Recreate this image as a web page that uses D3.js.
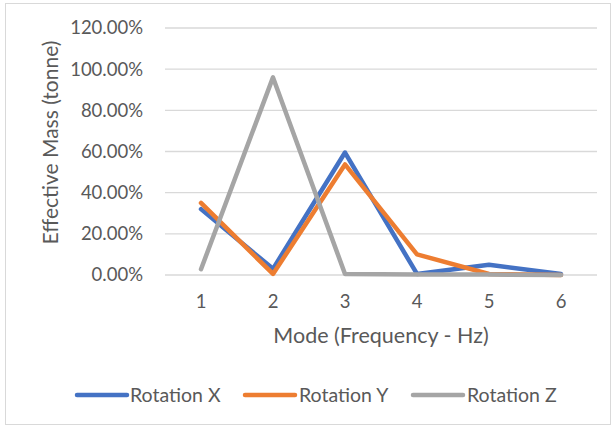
<!DOCTYPE html>
<html><head><meta charset="utf-8">
<script src="https://cdn.jsdelivr.net/npm/d3@7"></script>
<style>body{margin:0;background:#fff;} text{font-family:Lato, "Open Sans", sans-serif;fill:#595959;}</style>
</head><body><svg id="c" width="616" height="427"></svg>
<script>
const modes = ["1","2","3","4","5","6"];
const rotationX = [0.32, 0.03, 0.595, 0.005, 0.05, 0.005];
const rotationY = [0.35, 0.005, 0.537, 0.10, 0.005, 0.0];
const rotationZ = [0.028, 0.96, 0.005, 0.003, 0.002, 0.0];
const yTicks = [0, 0.2, 0.4, 0.6, 0.8, 1.0, 1.2];
const seriesNames = ["Rotation X", "Rotation Y", "Rotation Z"];
const colors = ["#4472C4", "#ED7D31", "#A5A5A5"];
const seriesData = [rotationX, rotationY, rotationZ];

(function(){
const svg = d3.select("#c");
svg.append("rect").attr("x",5.5).attr("y",3.5).attr("width",605).attr("height",421)
  .attr("fill","#fff").attr("stroke","#D9D9D9");

const pl = 165, pr = 597, pt = 28, pb = 275;
const x = d3.scaleBand().domain(modes).range([pl, pr]);
const y = d3.scaleLinear().domain([0, 1.2]).range([pb, pt]);

const g = svg.append("g");
g.selectAll("line.grid").data(yTicks).enter().append("line")
  .attr("x1", pl).attr("x2", pr)
  .attr("y1", d => y(d)).attr("y2", d => y(d))
  .attr("stroke", "#D9D9D9").attr("stroke-width", 1.3);

const yAxis = d3.axisLeft(y).tickValues(yTicks).tickFormat(d3.format(".2%")).tickSize(0).tickPadding(22);
const ya = svg.append("g").attr("transform", `translate(${pl},0)`).call(yAxis);
ya.select(".domain").remove();
ya.selectAll("text").attr("font-size", 18.5).style("fill","#595959").attr("font-family","Lato");

const xAxis = d3.axisBottom(x).tickSize(0).tickPadding(20);
const xa = svg.append("g").attr("transform", `translate(0,${pb})`).call(xAxis);
xa.select(".domain").remove();
xa.selectAll("text").attr("font-size", 18.5).style("fill","#595959").attr("font-family","Lato");

const line = d3.line().x((d,i) => x(modes[i]) + x.bandwidth()/2).y(d => y(d));
seriesData.forEach((s, k) => {
  svg.append("path").datum(s).attr("d", line).attr("fill","none")
    .attr("stroke", colors[k]).attr("stroke-width", 4.5).attr("stroke-linejoin","round").attr("stroke-linecap","round");
});

svg.append("text").attr("transform", `translate(58,${(38+247)/2}) rotate(-90)`)
  .attr("text-anchor","middle").attr("font-size",21).text("Effective Mass (tonne)");
svg.append("text").attr("x", (272+490)/2).attr("y", 343)
  .attr("text-anchor","middle").attr("font-size",21.5).text("Mode (Frequency - Hz)");

const legX = [77, 245, 413];
const legT = [130, 299, 467];
seriesNames.forEach((n, k) => {
  svg.append("line").attr("x1", legX[k]).attr("x2", legX[k]+50).attr("y1", 395).attr("y2", 395)
    .attr("stroke", colors[k]).attr("stroke-width", 4.5).attr("stroke-linecap","round");
  svg.append("text").attr("x", legT[k]).attr("y", 402).attr("font-size", 19.5).text(n);
});
})();
</script></body></html>
